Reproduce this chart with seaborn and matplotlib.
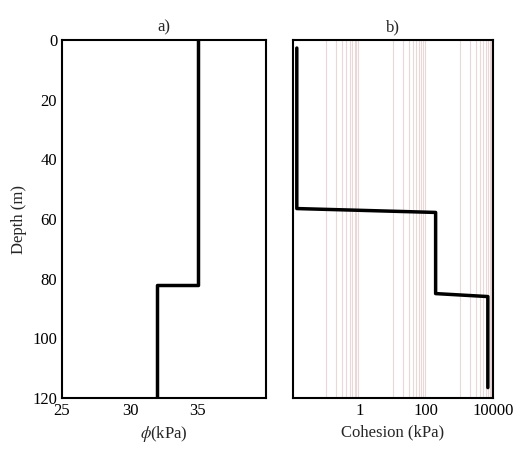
import numpy as np
import matplotlib
matplotlib.use("Agg")
import matplotlib.pyplot as plt
import seaborn as sns

# friction angle profile
phi_depth = [0, 82, 82, 120]
phi_val = [35, 35, 32, 32]
# cohesion profile
coh_depth = [2.7, 56.5, 57.8, 85.0, 86.0, 116.5]
coh_val = [0.013, 0.013, 190, 190, 7000, 7000]

sns.set_style("white")
plt.rcParams['font.family'] = ['Liberation Serif', 'DejaVu Serif']
plt.rcParams['mathtext.fontset'] = 'stix'

fig = plt.figure(figsize=(5.2, 4.51), dpi=100)
ax1 = fig.add_axes([62/520, 1-398/451, 204/520, 358/451])
ax2 = fig.add_axes([293/520, 1-398/451, 200/520, 358/451])

sns.lineplot(x=phi_val, y=phi_depth, ax=ax1, color='black', lw=2.5, sort=False, estimator=None)
ax1.set_xlim(25, 40)
ax1.set_xticks([25, 30, 35])
ax1.set_ylim(120, 0)
ax1.set_yticks(range(0, 121, 20))
ax1.set_xlabel(r'$\phi$(kPa)', fontsize=12)
ax1.set_ylabel('Depth (m)', fontsize=12)
ax1.set_title('a)', fontsize=12)

# minor gridlines like the Excel base-100 log axis
minor = [k * 10.0**e for e in [-1, 1, 3] for k in range(1, 10)]
for m in minor:
    ax2.axvline(m, color='#ead8d8', lw=0.8, zorder=0)
sns.lineplot(x=coh_val, y=coh_depth, ax=ax2, color='black', lw=2.5, sort=False, estimator=None)
ax2.set_xscale('log')
ax2.set_xlim(0.01, 10000)
ax2.set_xticks([1, 100, 10000])
ax2.set_xticklabels(['1', '100', '10000'])
ax2.set_xticks(minor, minor=True)
ax2.set_xticklabels([], minor=True)
ax2.tick_params(axis='x', which='minor', direction='in', length=3, color='black')
ax2.set_ylim(120, 0)
ax2.set_yticks(range(0, 121, 20))
ax2.set_yticklabels([])
ax2.set_xlabel('Cohesion (kPa)', fontsize=12)
ax2.set_title('b)', fontsize=12)

for ax in (ax1, ax2):
    for s in ax.spines.values():
        s.set_color('black')
        s.set_linewidth(1.5)
    ax.tick_params(which='major', direction='in', length=4, labelsize=12, colors='black')

fig.savefig('out.png', dpi=100)
